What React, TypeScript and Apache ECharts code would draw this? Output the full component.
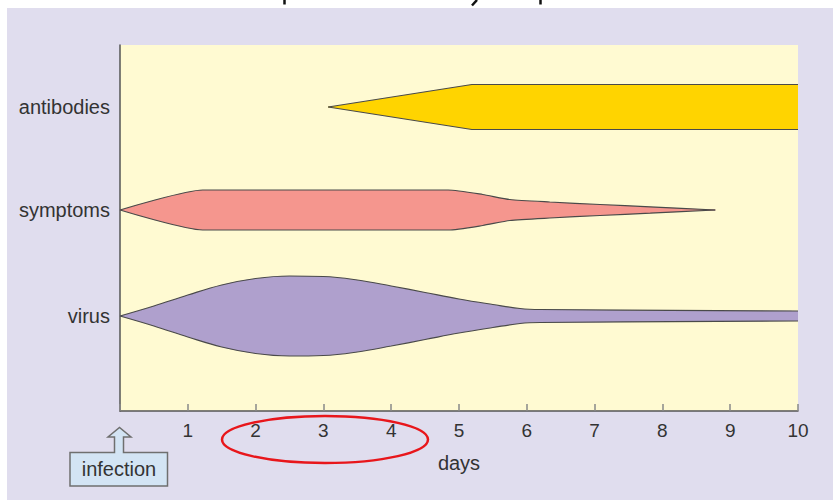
import React, { useEffect, useRef } from "react";
import * as echarts from "echarts";

// ---- data ----
const dayMin = 0;
const dayMax = 10;
const rowNames = ["virus", "symptoms", "antibodies"];
const rowCenters = [95, 201, 304]; // vertical position of each row (axis units)

const virusDays = [0, 0.5, 1.0, 1.5, 2.0, 2.5, 3.0, 3.5, 4.0, 4.5, 5.0, 5.5, 5.9, 6.2, 10];
const virusHalf = [0, 10, 21, 31, 37.5, 40, 39.5, 36, 30, 23.5, 17, 11.5, 7.5, 6.5, 5];

const symptomDays = [0, 1.22, 4.84, 5.35, 5.75, 6.34, 7.08, 7.82, 8.78];
const symptomHalf = [0, 20, 20, 15.5, 10.5, 8, 5.5, 3.2, 0];

const antibodyDays = [3.07, 5.19, 10];
const antibodyHalf = [0, 22.5, 22.5];

const FONT = '"Liberation Sans", Arial, sans-serif';

function edgeSeries(name: string, days: number[], half: number[], center: number, color: string, smooth: number | boolean) {
  const up = days.map((d, i) => [d, center + half[i]]);
  const lo = days.map((d, i) => [d, center - half[i]]);
  const common: any = {
    type: "line",
    name,
    smooth,
    showSymbol: false,
    symbol: "none",
    silent: true,
    clip: true,
    lineStyle: { color: "#4a4a4a", width: 1.2 },
  };
  return [
    { ...common, data: up, areaStyle: { color, opacity: 1, origin: center - 0.6 } },
    { ...common, data: lo, areaStyle: { color, opacity: 1, origin: center + 0.6 } },
  ];
}

export default function App() {
  const ref = useRef<HTMLDivElement>(null);
  useEffect(() => {
    if (!ref.current) return;
    const chart = echarts.init(ref.current, undefined, { renderer: "svg" });
    const option: any = {
      animation: false,
      textStyle: { fontFamily: FONT },
      grid: {
        left: 120,
        top: 45,
        right: 35,
        bottom: 89,
        show: true,
        backgroundColor: "#fffad2",
        borderWidth: 0,
      },
      xAxis: {
        type: "value",
        min: dayMin,
        max: dayMax,
        interval: 1,
        name: "days",
        nameLocation: "middle",
        nameGap: 42,
        nameTextStyle: { fontSize: 20, color: "#333", fontFamily: FONT },
        axisLine: { show: true, lineStyle: { color: "#555", width: 1.5 } },
        axisTick: { show: true, inside: true, length: 7, lineStyle: { color: "#888", width: 1.5 } },
        splitLine: { show: false },
        axisLabel: {
          fontSize: 19,
          color: "#333",
          margin: 10,
          fontFamily: FONT,
          formatter: (v: number) => (v === 0 ? "" : String(v)),
        },
      },
      yAxis: {
        type: "value",
        min: 0,
        max: 366,
        axisLine: { show: true, lineStyle: { color: "#555", width: 1.5 } },
        axisTick: { show: false },
        splitLine: { show: false },
        axisLabel: {
          customValues: rowCenters,
          fontSize: 20,
          color: "#333",
          margin: 10,
          fontFamily: FONT,
          formatter: (v: number) => {
            const i = rowCenters.indexOf(v);
            return i >= 0 ? rowNames[i] : "";
          },
        },
      },
      series: [
        ...edgeSeries("antibodies", antibodyDays, antibodyHalf, rowCenters[2], "#ffd400", false),
        ...edgeSeries("symptoms", symptomDays, symptomHalf, rowCenters[1], "#f5968e", 0.2),
        ...edgeSeries("virus", virusDays, virusHalf, rowCenters[0], "#afa0cd", 0.4),
      ],
      graphic: [
        {
          type: "rect",
          z: -10,
          silent: true,
          shape: { x: 7, y: 8, width: 826, height: 492 },
          style: { fill: "#e0ddee" },
        },
        {
          type: "line",
          z: 100,
          shape: { x1: 284.5, y1: 0, x2: 284.5, y2: 4.5 },
          style: { stroke: "#111", lineWidth: 2.5 },
        },
        {
          type: "line",
          z: 100,
          shape: { x1: 477, y1: 0, x2: 472, y2: 5.5 },
          style: { stroke: "#111", lineWidth: 2.5 },
        },
        {
          type: "line",
          z: 100,
          shape: { x1: 540.5, y1: 0, x2: 540.5, y2: 4.5 },
          style: { stroke: "#111", lineWidth: 2.5 },
        },
        {
          type: "polygon",
          z: 100,
          shape: {
            points: [
              [70, 452.5],
              [114.5, 452.5],
              [114.5, 437],
              [108, 437],
              [119.5, 427.5],
              [131, 437],
              [123.5, 437],
              [123.5, 452.5],
              [167.5, 452.5],
              [167.5, 486],
              [70, 486],
            ],
          },
          style: { fill: "#d3e4f4", stroke: "#6f6f6f", lineWidth: 1.5 },
        },
        {
          type: "text",
          z: 101,
          x: 119,
          y: 469,
          style: {
            text: "infection",
            font: `20px ${FONT}`,
            fill: "#333",
            align: "center",
            verticalAlign: "middle",
          },
        },
        {
          type: "ellipse",
          z: 100,
          shape: { cx: 325, cy: 439.5, rx: 103, ry: 23.5 },
          style: { fill: "transparent", stroke: "#e8161b", lineWidth: 2.5 },
        },
      ],
    };
    chart.setOption(option);
    return () => chart.dispose();
  }, []);
  return (
    <div
      ref={ref}
      style={{ position: "absolute", left: 0, top: 0, width: 833, height: 500, background: "#fff" }}
    />
  );
}
